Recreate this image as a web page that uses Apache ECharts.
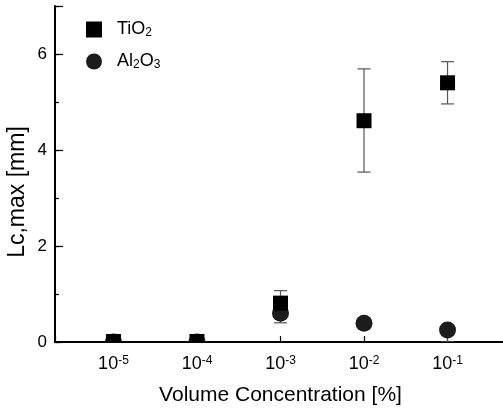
<!DOCTYPE html>
<html>
<head>
<meta charset="utf-8">
<script src="https://cdn.jsdelivr.net/npm/echarts@6/dist/echarts.min.js"></script>
<style>
  html, body { margin: 0; padding: 0; background: #fff; }
  #chart { width: 503px; height: 412px; }
</style>
</head>
<body>
<div id="chart"></div>
<script>
// volume concentration [%]
const concentrations = [1e-5, 1e-4, 1e-3, 1e-2, 1e-1];

// Lc,max [mm]
const tio2Values = [0.01, 0.01, 0.81, 4.61, 5.40];
const tio2Low = [0.0, 0.0, 0.55, 3.54, 4.96];
const tio2High = [0.04, 0.04, 1.07, 5.69, 5.84];

const al2o3Values = [0.0, 0.0, 0.60, 0.39, 0.25];
const al2o3Low = [0.0, 0.0, 0.40, 0.30, 0.0];
const al2o3High = [0.0, 0.0, 0.80, 0.48, 0.30];

const yTicks = [0, 2, 4, 6];

const font = 'Liberation Sans, Arial, sans-serif';
const narrow = 'Liberation Sans Narrow, Liberation Sans, Arial, sans-serif';

function points(values) {
    return concentrations.map((c, i) => [c, values[i]]);
}
function bars(low, high) {
    return concentrations.map((c, i) => [c, low[i], high[i]]);
}

function renderErrorBar(params, api) {
    const x = api.value(0);
    const lo = api.coord([x, api.value(1)]);
    const hi = api.coord([x, api.value(2)]);
    const w = 6.5;
    const style = { stroke: '#555', lineWidth: 1.2 };
    return {
        type: 'group',
        children: [
            { type: 'line', shape: { x1: hi[0], y1: hi[1], x2: lo[0], y2: lo[1] }, style },
            { type: 'line', shape: { x1: hi[0] - w, y1: hi[1], x2: hi[0] + w, y2: hi[1] }, style },
            { type: 'line', shape: { x1: lo[0] - w, y1: lo[1], x2: lo[0] + w, y2: lo[1] }, style }
        ]
    };
}

function renderSquare(params, api) {
    const p = api.coord([api.value(0), api.value(1)]);
    return {
        type: 'rect',
        shape: { x: p[0] - 7.5, y: p[1] - 7.5, width: 15, height: 15 },
        style: { fill: api.visual('color') }
    };
}

function renderCircle(params, api) {
    const p = api.coord([api.value(0), api.value(1)]);
    return {
        type: 'circle',
        shape: { cx: p[0], cy: p[1], r: 8.5 },
        style: { fill: api.visual('color') }
    };
}

const chart = echarts.init(document.getElementById('chart'));

chart.setOption({
    animation: false,
    backgroundColor: '#fff',
    grid: { left: 55, top: 6, right: -3, bottom: 70, outerBoundsMode: 'none', containLabel: false },
    legend: {
        orient: 'vertical',
        left: 81,
        top: 10,
        itemWidth: 16,
        itemHeight: 16,
        itemGap: 8,
        selectedMode: false,
        data: [
            { name: 'TiO2', icon: 'rect' },
            { name: 'Al2O3', icon: 'circle' }
        ],
        formatter: name => name === 'TiO2'
            ? '{a|TiO}{s|2}'
            : '{a|Al}{s|2}{a|O}{s|3}',
        textStyle: {
            fontFamily: font,
            fontSize: 18,
            color: '#000',
            padding: [0, 0, 0, 10],
            rich: {
                a: { fontFamily: font, fontSize: 18, color: '#000', verticalAlign: 'top', lineHeight: 19 },
                s: { fontFamily: font, fontSize: 12, color: '#000', verticalAlign: 'bottom', lineHeight: 12, padding: [12, 0, 0, 0] }
            }
        }
    },
    xAxis: [
        {
            type: 'log',
            logBase: 10,
            min: Math.pow(10, -5.7),
            max: Math.pow(10, -0.3),
            name: 'Volume Concentration [%]',
            nameLocation: 'middle',
            nameGap: 43,
            nameMoveOverlap: false,
            nameTextStyle: { fontFamily: font, fontSize: 21, color: '#000' },
            axisLine: { lineStyle: { color: '#000', width: 2 } },
            axisTick: { inside: true, length: 6, lineStyle: { color: '#000', width: 1.2 } },
            splitLine: { show: false },
            axisLabel: {
                margin: 13,
                fontFamily: narrow,
                fontSize: 18,
                color: '#000',
                formatter: v => {
                    const e = Math.log10(v);
                    if (Math.abs(e - Math.round(e)) > 1e-6) return '';
                    return '{b|10}{s|' + Math.round(e) + '}';
                },
                rich: {
                    b: { fontFamily: narrow, fontSize: 18, color: '#000', verticalAlign: 'bottom', lineHeight: 18 },
                    s: { fontFamily: narrow, fontSize: 12, color: '#000', verticalAlign: 'top', lineHeight: 12, padding: [0, 0, 8, 0] }
                }
            }
        },
        {
            type: 'value',
            position: 'top',
            min: 0,
            max: 1,
            axisLine: { show: true, lineStyle: { color: '#000', width: 1.5 } },
            axisTick: { show: false },
            axisLabel: { show: false },
            splitLine: { show: false }
        }
    ],
    yAxis: [
        {
            type: 'value',
            position: 'left',
            min: 0,
            max: 7,
            interval: 2,
            name: 'Lc,max [mm]',
            nameLocation: 'middle',
            nameRotate: 90,
            nameGap: 26,
            nameMoveOverlap: false,
            nameTextStyle: { fontFamily: font, fontSize: 23, color: '#000', padding: [0, 36, 0, 0] },
            axisLine: { lineStyle: { color: '#000', width: 2 } },
            axisTick: { inside: true, length: 8, lineStyle: { color: '#000', width: 1.2 } },
            splitLine: { show: false },
            axisLabel: {
                margin: 8,
                fontFamily: font,
                fontSize: 17,
                color: '#000',
                formatter: v => yTicks.includes(v) ? String(v) : ''
            }
        },
        {
            type: 'value',
            position: 'left',
            min: 0,
            max: 7,
            interval: 1,
            axisLine: { show: false },
            axisTick: { inside: true, length: 4, lineStyle: { color: '#000', width: 1.2 } },
            axisLabel: { show: false },
            splitLine: { show: false }
        }
    ],
    series: [
        {
            name: 'Al2O3 error',
            type: 'custom',
            renderItem: renderErrorBar,
            encode: { x: 0, y: [1, 2] },
            clip: true,
            z: 2,
            data: bars(al2o3Low, al2o3High)
        },
        {
            name: 'TiO2 error',
            type: 'custom',
            renderItem: renderErrorBar,
            encode: { x: 0, y: [1, 2] },
            clip: true,
            z: 2,
            data: bars(tio2Low, tio2High)
        },
        {
            name: 'Al2O3',
            type: 'custom',
            renderItem: renderCircle,
            encode: { x: 0, y: 1 },
            clip: true,
            z: 3,
            itemStyle: { color: '#1c1c1c' },
            data: points(al2o3Values)
        },
        {
            name: 'TiO2',
            type: 'custom',
            renderItem: renderSquare,
            encode: { x: 0, y: 1 },
            clip: true,
            z: 4,
            itemStyle: { color: '#000' },
            data: points(tio2Values)
        }
    ]
});
</script>
</body>
</html>
